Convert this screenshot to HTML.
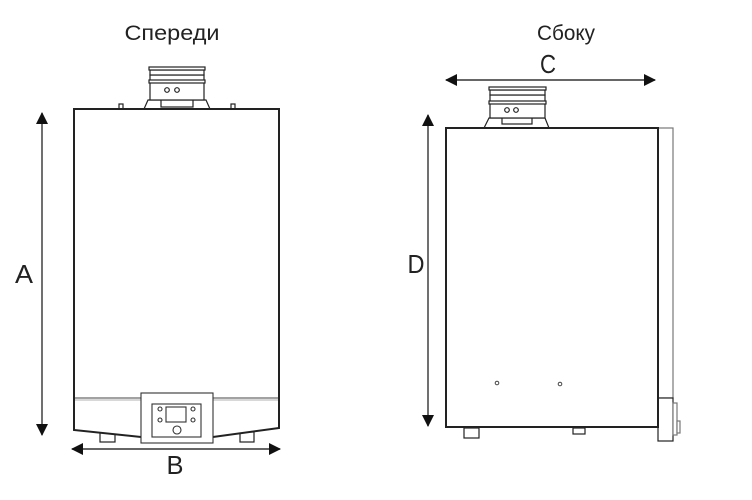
<!DOCTYPE html>
<html><head><meta charset="utf-8"><style>
html,body{margin:0;padding:0;background:#fff;width:752px;height:500px;overflow:hidden}
svg{display:block}
text{font-family:"Liberation Sans",sans-serif;fill:#222}
</style></head><body>
<svg width="752" height="500" viewBox="0 0 752 500" xmlns="http://www.w3.org/2000/svg">
<defs>
<marker id="ar" markerWidth="12" markerHeight="12" refX="11" refY="6" orient="auto" markerUnits="userSpaceOnUse">
<path d="M0,0 L12,6 L0,12 Z" fill="#111"/></marker>
</defs>
<text x="172" y="40" font-size="21" text-anchor="middle" textLength="95" lengthAdjust="spacingAndGlyphs">Спереди</text>
<text x="566" y="40" font-size="21" text-anchor="middle" textLength="58" lengthAdjust="spacingAndGlyphs">Сбоку</text>
<text x="24" y="283" font-size="26" text-anchor="middle" textLength="18" lengthAdjust="spacingAndGlyphs">A</text>
<text x="175" y="474" font-size="26" text-anchor="middle" textLength="17" lengthAdjust="spacingAndGlyphs">B</text>
<text x="548" y="73" font-size="26" text-anchor="middle" textLength="16" lengthAdjust="spacingAndGlyphs">C</text>
<text x="416" y="273" font-size="26" text-anchor="middle" textLength="17" lengthAdjust="spacingAndGlyphs">D</text>

<g stroke="#333" stroke-width="1.4" fill="none">
<line x1="42" y1="272" x2="42" y2="113" marker-end="url(#ar)"/>
<line x1="42" y1="272" x2="42" y2="435" marker-end="url(#ar)"/>
<line x1="175" y1="449" x2="72" y2="449" marker-end="url(#ar)"/>
<line x1="175" y1="449" x2="280" y2="449" marker-end="url(#ar)"/>
<line x1="550" y1="80" x2="446" y2="80" marker-end="url(#ar)"/>
<line x1="550" y1="80" x2="655" y2="80" marker-end="url(#ar)"/>
<line x1="428" y1="270" x2="428" y2="115" marker-end="url(#ar)"/>
<line x1="428" y1="270" x2="428" y2="426" marker-end="url(#ar)"/>
</g>

<g fill="#fff" stroke="#222" stroke-width="1.2">
<rect x="119" y="104" width="4" height="5"/>
<rect x="231" y="104" width="4" height="5"/>
<path d="M144,109 L148,100 L206,100 L210,109 Z"/>
<path d="M150,100 L154,95 L200,95 L204,100"/>
<rect x="161" y="100" width="32" height="7"/>
<rect x="150" y="75" width="54" height="25"/>
<rect x="149" y="80" width="56" height="3"/>
<rect x="150" y="70" width="54" height="5"/>
<rect x="149" y="67" width="56" height="3"/>
<circle cx="167" cy="90" r="2.3"/><circle cx="177" cy="90" r="2.3"/>
<rect x="100" y="432" width="15" height="10"/>
<rect x="240" y="432" width="14" height="10"/>
</g>
<path d="M74,109 L279,109 L279,428 L213,437 L141,437 L74,430 Z" fill="#fff" stroke="#222" stroke-width="2"/>
<line x1="75" y1="398" x2="278" y2="398" stroke="#444" stroke-width="1"/>
<line x1="75" y1="400" x2="278" y2="400" stroke="#999" stroke-width="0.8"/>
<g fill="#fff" stroke="#333" stroke-width="1.1">
<rect x="141" y="393" width="72" height="50"/>
<rect x="152" y="404" width="49" height="33"/>
<rect x="166" y="407" width="20" height="15"/>
<circle cx="160" cy="409" r="2"/><circle cx="160" cy="420" r="2"/>
<circle cx="193" cy="409" r="2"/><circle cx="193" cy="420" r="2"/>
<circle cx="177" cy="430" r="4"/>
</g>

<g fill="#fff" stroke="#222" stroke-width="1.2">
<path d="M484,128 L489,118 L545,118 L549,128 Z"/>
<rect x="502" y="118" width="30" height="6"/>
<rect x="490" y="95" width="55" height="23"/>
<rect x="489" y="101" width="57" height="3"/>
<rect x="490" y="90" width="55" height="5"/>
<rect x="489" y="87" width="57" height="3"/>
<circle cx="507" cy="110" r="2.3"/><circle cx="516" cy="110" r="2.3"/>
<rect x="464" y="428" width="15" height="10"/>
<rect x="573" y="428" width="12" height="6"/>
<rect x="658" y="128" width="15" height="270" stroke="#777"/>
<rect x="658" y="398" width="15" height="43"/>
<rect x="673" y="403" width="4" height="32" stroke="#777"/>
<rect x="677" y="421" width="3" height="12" stroke="#777"/>
</g>
<rect x="446" y="128" width="212" height="299" fill="#fff" stroke="#222" stroke-width="2"/>
<circle cx="497" cy="383" r="1.8" fill="none" stroke="#444"/>
<circle cx="560" cy="384" r="1.8" fill="none" stroke="#444"/>
</svg>
</body></html>
